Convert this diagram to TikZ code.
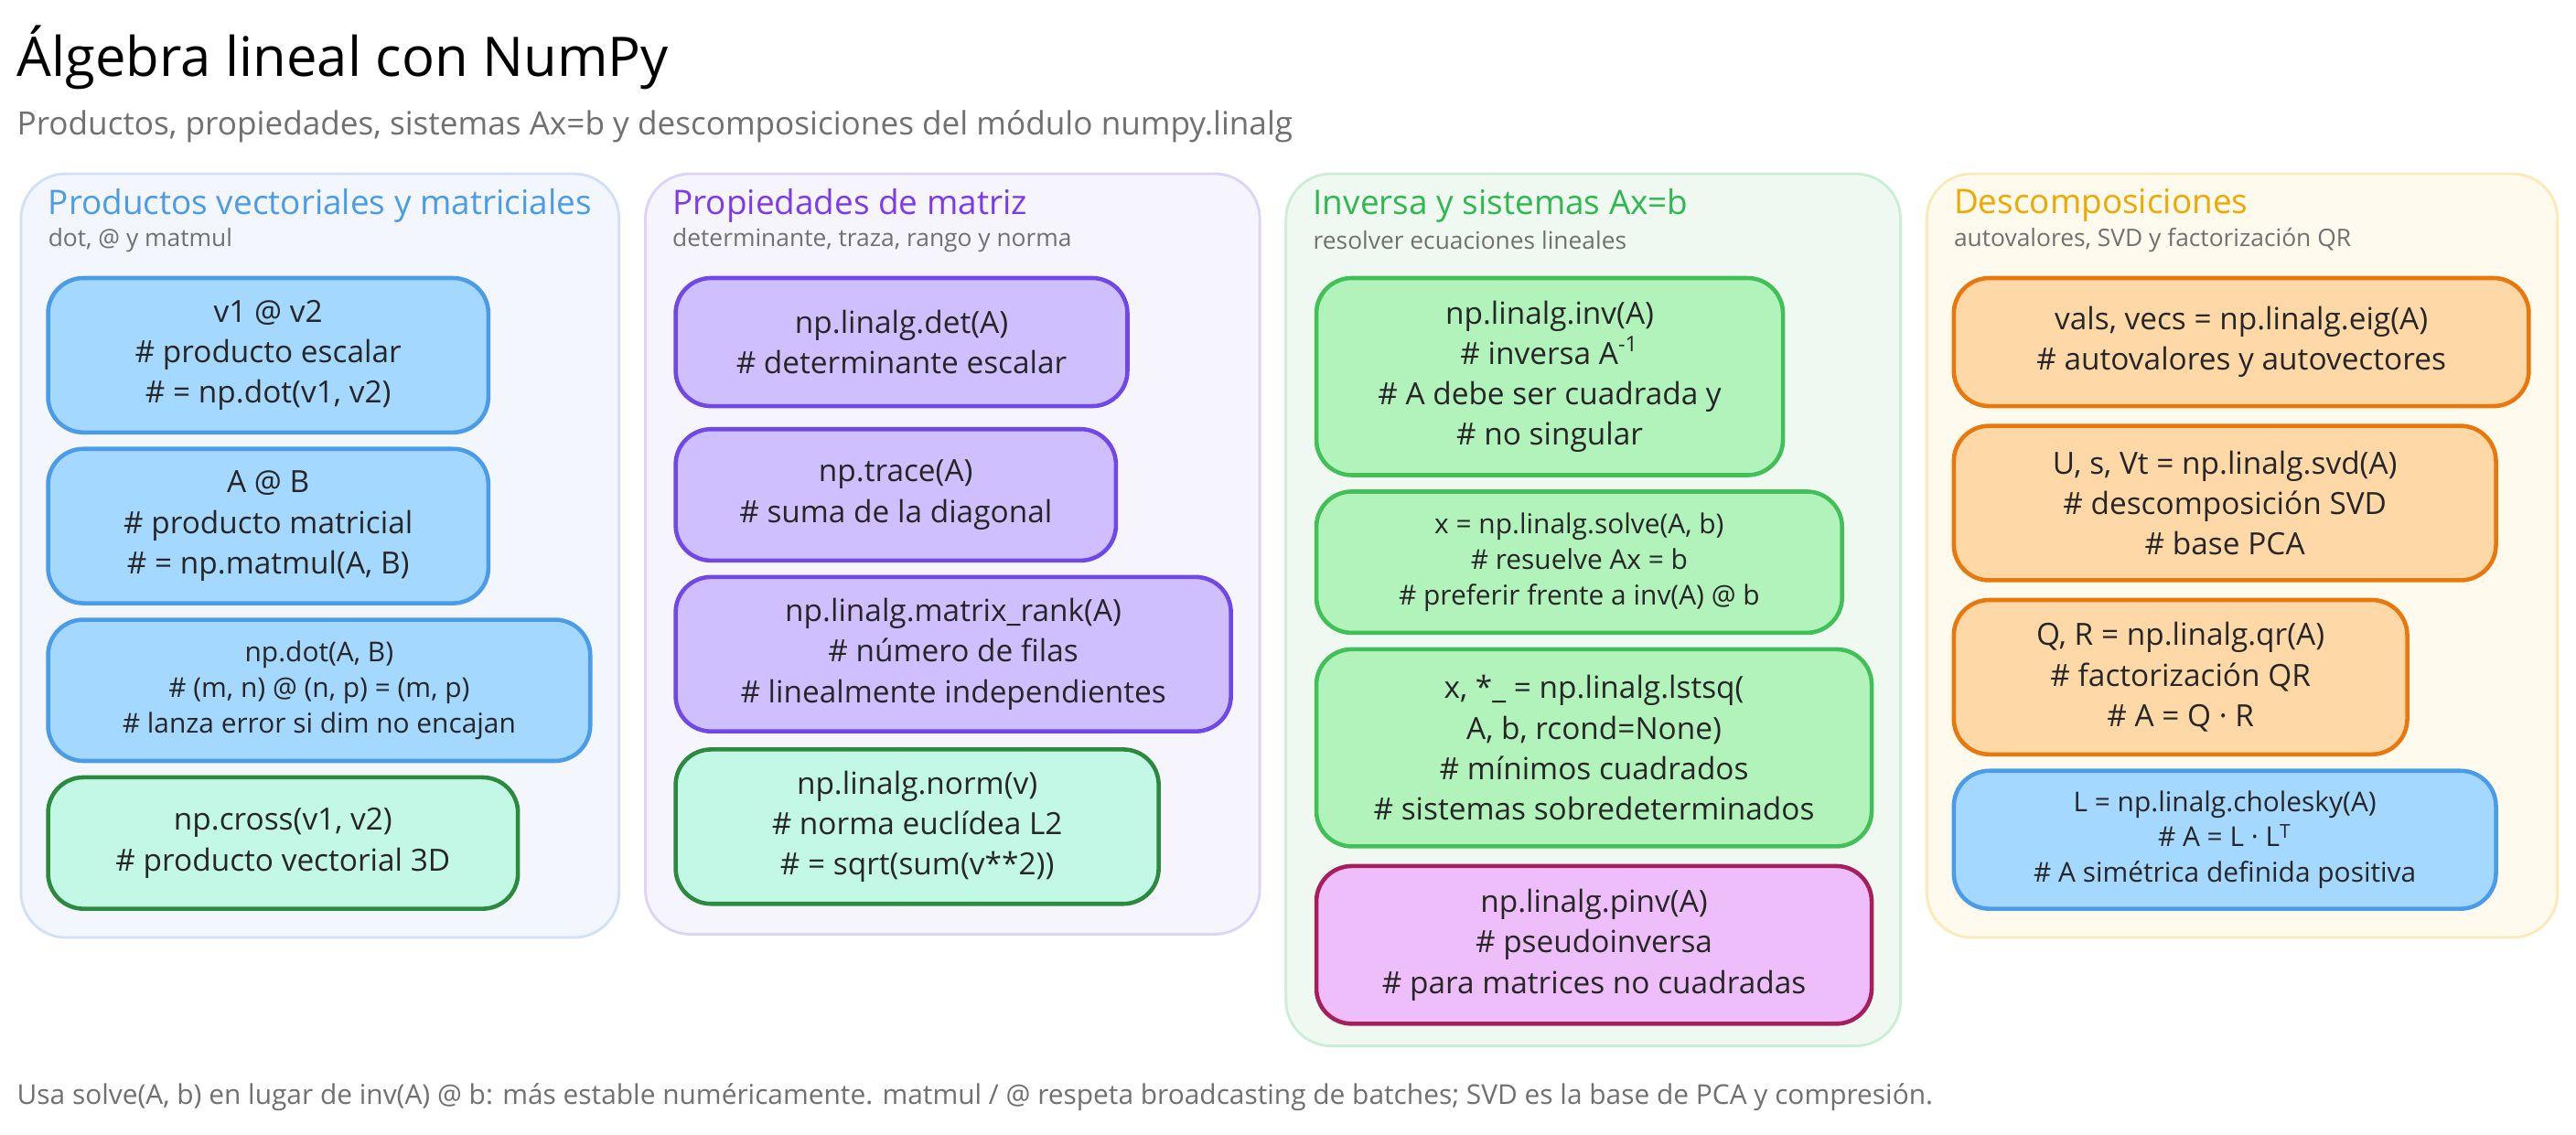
\documentclass[tikz,border=0pt]{standalone}
\usepackage{fontspec}
\setmainfont{Open Sans}
\usetikzlibrary{positioning}
\newlength\pw\setlength\pw{0.017959cm}
\definecolor{pblue}{HTML}{F3F6FD}\definecolor{pblueb}{HTML}{CFE0F7}
\definecolor{ppur}{HTML}{F6F4FD}\definecolor{ppurb}{HTML}{DDD3F7}
\definecolor{pgrn}{HTML}{EFF9F1}\definecolor{pgrnb}{HTML}{C9EED3}
\definecolor{pyel}{HTML}{FEFAEE}\definecolor{pyelb}{HTML}{FBE9B8}
\definecolor{tblue}{HTML}{4A9BE8}\definecolor{tpur}{HTML}{7C3AED}
\definecolor{tgrn}{HTML}{2FB84F}\definecolor{tyel}{HTML}{F0A800}
\definecolor{fblue}{HTML}{A5D8FF}\definecolor{fmint}{HTML}{C3F7E6}\definecolor{smint}{HTML}{2B8A3E}
\definecolor{fpur}{HTML}{D0BFFF}\definecolor{spur}{HTML}{7048E8}
\definecolor{fgrn}{HTML}{B2F2BB}\definecolor{sgrn}{HTML}{40C057}
\definecolor{fpink}{HTML}{EEBEFA}\definecolor{spink}{HTML}{A61E5C}
\definecolor{forg}{HTML}{FFD8A8}\definecolor{sorg}{HTML}{E8770C}
\definecolor{grey}{HTML}{707070}
\tikzset{
  panel/.style={draw, line width=0.8pt, rounded corners=14pt, anchor=north west},
  ptitle/.style={anchor=west, inner sep=0pt, font=\fontsize{10.5}{13}\selectfont},
  psub/.style={anchor=west, inner sep=0pt, text=grey, font=\fontsize{7.5}{9}\selectfont},
  box/.style={draw, line width=1.3pt, rounded corners=11pt, anchor=north west, align=center,
    inner sep=2pt, font=\fontsize{9.5}{12.6}\selectfont, text=black!85},
  bluebox/.style={box, fill=fblue, draw=tblue},
  mintbox/.style={box, fill=fmint, draw=smint},
  purbox/.style={box, fill=fpur, draw=spur},
  grnbox/.style={box, fill=fgrn, draw=sgrn},
  pinkbox/.style={box, fill=fpink, draw=spink},
  orgbox/.style={box, fill=forg, draw=sorg}
}
\begin{document}
\begin{tikzpicture}[x=\pw, y=-\pw]
\useasboundingbox[fill=white] (0,0) rectangle (1568,691);
% heading
\node[anchor=west, inner sep=0pt, font=\fontsize{17}{20}\selectfont] (title) at (10,35) {Álgebra lineal con NumPy};
\node[anchor=west, inner sep=0pt, text=grey, font=\fontsize{10}{12}\selectfont] (subtitle) at (10,77) {Productos, propiedades, sistemas Ax=b y descomposiciones del módulo numpy.linalg};
% panels
\node[panel, fill=pblue, draw=pblueb, minimum width=364\pw, minimum height=465\pw] (prod) at (12,105) {};
\node[panel, fill=ppur, draw=ppurb, minimum width=374\pw, minimum height=463\pw] (prop) at (392,105) {};
\node[panel, fill=pgrn, draw=pgrnb, minimum width=374\pw, minimum height=531\pw] (inv) at (782,105) {};
\node[panel, fill=pyel, draw=pyelb, minimum width=384\pw, minimum height=465\pw] (desc) at (1172,105) {};
\node[ptitle, text=tblue] (prodt) at (29,125) {Productos vectoriales y matriciales};
\node[psub] (prods) at (29,146) {dot, @ y matmul};
\node[ptitle, text=tpur] (propt) at (409,125) {Propiedades de matriz};
\node[psub] (props) at (409,146) {determinante, traza, rango y norma};
\node[ptitle, text=tgrn] (invt) at (799,125) {Inversa y sistemas Ax=b};
\node[psub] (invs) at (799,146) {resolver ecuaciones lineales};
\node[ptitle, text=tyel] (desct) at (1189,125) {Descomposiciones};
\node[psub] (descs) at (1189,146) {autovalores, SVD y factorización QR};
% products
\node[bluebox, minimum width=268\pw, minimum height=94\pw] (vdot) at (28,168) {v1 @ v2\\\# producto escalar\\\# = np.dot(v1, v2)};
\node[bluebox, minimum width=268\pw, minimum height=94\pw] (mmul) at (28,272) {A @ B\\\# producto matricial\\\# = np.matmul(A, B)};
\node[bluebox, minimum width=330\pw, minimum height=86\pw, font=\fontsize{8.5}{11}\selectfont] (npdot) at (28,376) {np.dot(A, B)\\\# (m, n) @ (n, p) = (m, p)\\\# lanza error si dim no encajan};
\node[mintbox, minimum width=286\pw, minimum height=80\pw] (cross) at (28,472) {np.cross(v1, v2)\\\# producto vectorial 3D};
% properties
\node[purbox, minimum width=275\pw, minimum height=78\pw] (det) at (410,168) {np.linalg.det(A)\\\# determinante escalar};
\node[purbox, minimum width=268\pw, minimum height=80\pw] (trace) at (410,260) {np.trace(A)\\\# suma de la diagonal};
\node[purbox, minimum width=338\pw, minimum height=94\pw] (rank) at (410,350) {np.linalg.matrix\_rank(A)\\\# número de filas\\\# linealmente independientes};
\node[mintbox, minimum width=294\pw, minimum height=94\pw] (norm) at (410,455) {np.linalg.norm(v)\\\# norma euclídea L2\\\# = sqrt(sum(v**2))};
% inverse and systems
\node[grnbox, minimum width=284\pw, minimum height=120\pw] (npinv) at (800,168) {np.linalg.inv(A)\\\# inversa A\textsuperscript{-1}\\\# A debe ser cuadrada y\\\# no singular};
\node[grnbox, minimum width=320\pw, minimum height=86\pw, font=\fontsize{8.5}{11}\selectfont] (solve) at (800,298) {x = np.linalg.solve(A, b)\\\# resuelve Ax = b\\\# preferir frente a inv(A) @ b};
\node[grnbox, minimum width=338\pw, minimum height=120\pw] (lstsq) at (800,394) {x, *\_ = np.linalg.lstsq(\\A, b, rcond=None)\\\# mínimos cuadrados\\\# sistemas sobredeterminados};
\node[pinkbox, minimum width=338\pw, minimum height=96\pw] (pinv) at (800,526) {np.linalg.pinv(A)\\\# pseudoinversa\\\# para matrices no cuadradas};
% decompositions
\node[orgbox, minimum width=350\pw, minimum height=78\pw] (eig) at (1188,168) {vals, vecs = np.linalg.eig(A)\\\# autovalores y autovectores};
\node[orgbox, minimum width=330\pw, minimum height=94\pw] (svd) at (1188,258) {U, s, Vt = np.linalg.svd(A)\\\# descomposición SVD\\\# base PCA};
\node[orgbox, minimum width=276\pw, minimum height=94\pw] (qr) at (1188,364) {Q, R = np.linalg.qr(A)\\\# factorización QR\\\# A = Q · R};
\node[bluebox, minimum width=330\pw, minimum height=84\pw, font=\fontsize{8.5}{11}\selectfont] (chol) at (1188,468) {L = np.linalg.cholesky(A)\\\# A = L · L\textsuperscript{T}\\\# A simétrica definida positiva};
% footer
\node[anchor=west, inner sep=0pt, text=grey, font=\fontsize{8.5}{10}\selectfont] (note) at (10,668) {Usa solve(A, b) en lugar de inv(A) @ b: más estable numéricamente. matmul / @ respeta broadcasting de batches; SVD es la base de PCA y compresión.};
\end{tikzpicture}
\end{document}
